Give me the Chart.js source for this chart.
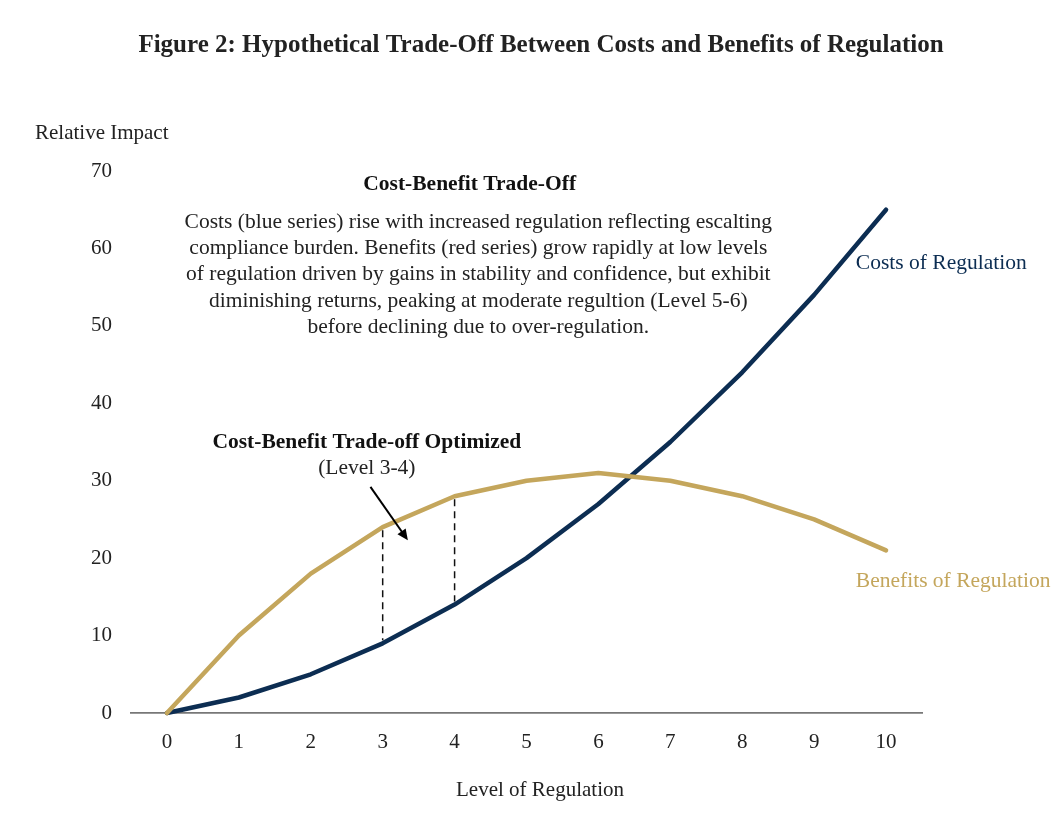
<!DOCTYPE html>
<html>
<head>
<meta charset="utf-8">
<title>Figure 2</title>
<script src="https://cdn.jsdelivr.net/npm/chart.js@4.4.1/dist/chart.umd.min.js"></script>
<style>
  html, body { margin: 0; padding: 0; background: #fff; }
  #wrap { width: 1057px; height: 828px; }
</style>
</head>
<body>
<div id="wrap"><canvas id="chart"></canvas></div>
<script>
const LEVELS = ['0', '1', '2', '3', '4', '5', '6', '7', '8', '9', '10'];
const COSTS = [0, 2, 5, 9, 14, 20, 27, 35, 44, 54, 65];
const BENEFITS = [0, 10, 18, 24, 28, 30, 31, 30, 28, 25, 21];
const Y_MAX = 70;
const Y_STEP = 10;
const OPTIMUM_LEVELS = [3, 4]; // dashed connectors between the curves

const TITLE = 'Figure 2: Hypothetical Trade-Off Between Costs and Benefits of Regulation';
const NOTE_HEADING = 'Cost-Benefit Trade-Off';
const NOTE_LINES = [
    'Costs (blue series) rise with increased regulation reflecting escalting',
    'compliance burden. Benefits (red series) grow rapidly at low levels',
    'of regulation driven by gains in stability and confidence, but exhibit',
    'diminishing returns, peaking at moderate regultion (Level 5-6)',
    'before declining due to over-regulation.'
];
const OPT_HEADING = 'Cost-Benefit Trade-off Optimized';
const OPT_SUB = '(Level 3-4)';

const NAVY = '#0c2d52';
const GOLD = '#c4a65c';
const SERIF = '"Liberation Serif", "DejaVu Serif", serif';

// Draws titles, notes, dashed connectors and the arrow
const annotations = {
    id: 'annotations',
    afterDatasetsDraw(chart) {
        const { ctx, scales: { x, y } } = chart;
        ctx.save();

        // dashed connectors at the optimum levels
        ctx.strokeStyle = '#111';
        ctx.lineWidth = 1.5;
        ctx.setLineDash([7, 5]);
        OPTIMUM_LEVELS.forEach(lv => {
            const px = x.getPixelForValue(lv);
            ctx.beginPath();
            ctx.moveTo(px, y.getPixelForValue(BENEFITS[lv]) + 3);
            ctx.lineTo(px, y.getPixelForValue(COSTS[lv]) - 3);
            ctx.stroke();
        });
        ctx.setLineDash([]);

        // arrow pointing into the gap
        const ax1 = x.getPixelForValue(2.83), ay1 = y.getPixelForValue(29.2);
        const ax2 = x.getPixelForValue(3.35), ay2 = y.getPixelForValue(22.3);
        const ang = Math.atan2(ay2 - ay1, ax2 - ax1);
        ctx.strokeStyle = '#000';
        ctx.fillStyle = '#000';
        ctx.lineWidth = 2;
        ctx.beginPath();
        ctx.moveTo(ax1, ay1);
        ctx.lineTo(ax2 - 8 * Math.cos(ang), ay2 - 8 * Math.sin(ang));
        ctx.stroke();
        ctx.beginPath();
        ctx.moveTo(ax2, ay2);
        ctx.lineTo(ax2 - 11 * Math.cos(ang) + 5 * Math.sin(ang), ay2 - 11 * Math.sin(ang) - 5 * Math.cos(ang));
        ctx.lineTo(ax2 - 11 * Math.cos(ang) - 5 * Math.sin(ang), ay2 - 11 * Math.sin(ang) + 5 * Math.cos(ang));
        ctx.closePath();
        ctx.fill();

        ctx.textBaseline = 'middle';

        // figure title
        ctx.fillStyle = '#222';
        ctx.textAlign = 'center';
        ctx.font = `bold 25px ${SERIF}`;
        ctx.fillText(TITLE, 541, 46);

        // axis titles
        ctx.font = `21px ${SERIF}`;
        ctx.textAlign = 'left';
        ctx.fillText('Relative Impact', 35, 133);
        ctx.textAlign = 'center';
        ctx.fillText('Level of Regulation', 540, 790);

        // note box text
        ctx.fillStyle = '#111';
        ctx.font = `bold 21.5px ${SERIF}`;
        ctx.fillText(NOTE_HEADING, x.getPixelForValue(4.21), y.getPixelForValue(68.2));
        ctx.fillStyle = '#222';
        ctx.font = `21.5px ${SERIF}`;
        NOTE_LINES.forEach((line, i) => {
            ctx.fillText(line, x.getPixelForValue(4.33), y.getPixelForValue(63.4) + i * 26.3);
        });

        // optimum label
        ctx.fillStyle = '#111';
        ctx.font = `bold 21.5px ${SERIF}`;
        ctx.fillText(OPT_HEADING, x.getPixelForValue(2.78), y.getPixelForValue(34.9));
        ctx.fillStyle = '#222';
        ctx.font = `21.5px ${SERIF}`;
        ctx.fillText(OPT_SUB, x.getPixelForValue(2.78), y.getPixelForValue(31.6));

        // series labels
        ctx.textAlign = 'left';
        ctx.font = `21.5px ${SERIF}`;
        ctx.fillStyle = NAVY;
        ctx.fillText('Costs of Regulation', x.getPixelForValue(9.58), y.getPixelForValue(58.1));
        ctx.fillStyle = GOLD;
        ctx.fillText('Benefits of Regulation', x.getPixelForValue(9.58), y.getPixelForValue(17.0));

        ctx.restore();
    }
};

function initChart() {
    new Chart(document.getElementById('chart'), {
        type: 'line',
        data: {
            labels: LEVELS,
            datasets: [
                { label: 'Benefits of Regulation', data: BENEFITS, borderColor: GOLD, borderWidth: 4.5 },
                { label: 'Costs of Regulation', data: COSTS, borderColor: NAVY, borderWidth: 4.5 }
            ].map(ds => ({ ...ds, pointRadius: 0, tension: 0, fill: false, clip: false,
                borderJoinStyle: 'round', borderCapStyle: 'round' }))
        },
        options: {
            responsive: true,
            maintainAspectRatio: false,
            animation: false,
            layout: { padding: { top: 171, right: 135, bottom: 0, left: 0 } },
            plugins: { legend: { display: false }, tooltip: { enabled: false }, title: { display: false } },
            scales: {
                x: {
                    type: 'category',
                    offset: true,
                    grid: { display: false },
                    border: { display: true, color: '#777', width: 1.8 },
                    ticks: { color: '#222', padding: 9, font: { family: SERIF, size: 21 }, maxRotation: 0 },
                    afterFit(scale) { scale.height = 115; }
                },
                y: {
                    min: 0,
                    max: Y_MAX,
                    grid: { display: false },
                    border: { display: false },
                    ticks: { stepSize: Y_STEP, color: '#222', padding: 11, font: { family: SERIF, size: 21 } },
                    afterFit(scale) { scale.width = 131; }
                }
            }
        },
        plugins: [annotations]
    });
}

document.addEventListener('DOMContentLoaded', initChart);
</script>
</body>
</html>
